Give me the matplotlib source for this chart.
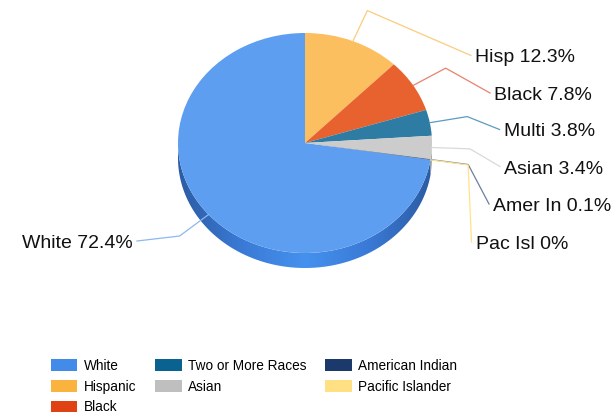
import numpy as np
import matplotlib
matplotlib.use("Agg")
import matplotlib.pyplot as plt
from matplotlib.patches import Patch, Polygon
from matplotlib.colors import LinearSegmentedColormap

plt.rcParams['font.family'] = ['Liberation Sans', 'DejaVu Sans']

groups = ['White', 'Hispanic', 'Black', 'Two or More Races', 'Asian',
          'American Indian', 'Pacific Islander']
short = ['White', 'Hisp', 'Black', 'Multi', 'Asian', 'Amer In', 'Pac Isl']
values = [72.4, 12.3, 7.8, 3.8, 3.4, 0.1, 0]
pct_text = ['72.4%', '12.3%', '7.8%', '3.8%', '3.4%', '0.1%', '0%']

face_colors = ['#5e9ef0', '#fcbf60', '#e8622f', '#2e7ca3', '#cccccc', '#2a4a7a', '#ffe48a']
legend_colors = ['#428be9', '#fbb340', '#e04313', '#09628f', '#bfbfbf', '#1b3a6b', '#ffe082']
side_colors = ['#3a78d0', '#d09a40', '#b84a20', '#1f5c7c', '#a8a8a8', '#1b3a6b', '#d8bf60']
line_colors = ['#8db8f0', '#fccb7e', '#e8826a', '#5b9bc0', '#d9d9d9', '#6c7f9f', '#ffe28a']

# pixel geometry of the reference
W, H = 615, 412
cx, cy, rx, ry = 305, 143, 127, 110
depth = 15 / ry

# label positions (pixels: x, text baseline y) and alignment
label_px = [(133, 248, 'right'), (475, 62.5, 'left'), (494, 100, 'left'),
            (503.5, 136.5, 'left'), (504, 173.5, 'left'), (493, 211, 'left'),
            (475.5, 249, 'left')]


def px2d(px, py):
    return (px - cx) / rx, (cy - py) / ry


fig = plt.figure(figsize=(W / 100, H / 100), dpi=100)
ax = fig.add_axes([0, 0, 1, 1])

total = sum(values)
start = 90 + 360 * values[0] / total
wedges, _ = ax.pie(values, colors=face_colors, startangle=start,
                   counterclock=False, radius=1, center=(0, 0),
                   wedgeprops=dict(linewidth=0))
for w in wedges:
    w.set_zorder(3)

# 3d side of the lower half
cmap = LinearSegmentedColormap.from_list('side', ['#2c5ca3', '#3a7ad6', '#4591ee', '#3a7ad6', '#2c5ca3'])
for i, w in enumerate(wedges):
    t = np.linspace(w.theta1, w.theta2, 200)
    t = t[np.sin(np.radians(t)) < 0]
    if len(t) < 2:
        continue
    xs = np.cos(np.radians(t))
    ys = np.sin(np.radians(t))
    verts = np.concatenate([np.c_[xs, ys], np.c_[xs[::-1], ys[::-1] - depth]])
    if i == 0:
        poly = Polygon(verts, closed=True, facecolor='none', edgecolor='none')
        ax.add_patch(poly)
        grad = np.linspace(0, 1, 256)[None, :]
        im = ax.imshow(grad, cmap=cmap, extent=(-1, 1, -1 - depth, 0.2),
                       aspect='auto', zorder=2)
        im.set_clip_path(poly)
    else:
        ax.add_patch(Polygon(verts, closed=True, facecolor=side_colors[i],
                             edgecolor='none', zorder=2))

# labels with leader lines
for i, w in enumerate(wedges):
    mid = np.radians((w.theta1 + w.theta2) / 2)
    x0, y0 = np.cos(mid), np.sin(mid)
    x1, y1 = 1.3 * x0, 1.3 * y0
    px, py, ha = label_px[i]
    lx, ly = px2d(px, py)
    ex, ey = px2d(px + (4 if ha == 'right' else -4), py - 7)
    ax.plot([x0, x1, ex], [y0, y1, ey], color=line_colors[i], lw=0.9, zorder=4)
    ax.text(lx, ly, f'{short[i]} {pct_text[i]}', ha=ha, va='baseline',
            fontsize=14, color='#111111', zorder=5)

ax.set_xlim(-cx / rx, (W - cx) / rx)
ax.set_ylim(-(H - cy) / ry, cy / ry)
ax.set_aspect('auto')
ax.axis('off')

handles = [Patch(facecolor=c, edgecolor='none') for c in legend_colors]
fig.legend(handles, groups, loc='upper left', bbox_to_anchor=(50.5 / W, 1 - 359 / H),
           ncol=3, frameon=False, fontsize=9.8, handlelength=1.98, handleheight=0.95,
           handletextpad=0.44, columnspacing=1.4, labelspacing=0.48, borderpad=0,
           borderaxespad=0)

fig.savefig('out.png', dpi=100)
